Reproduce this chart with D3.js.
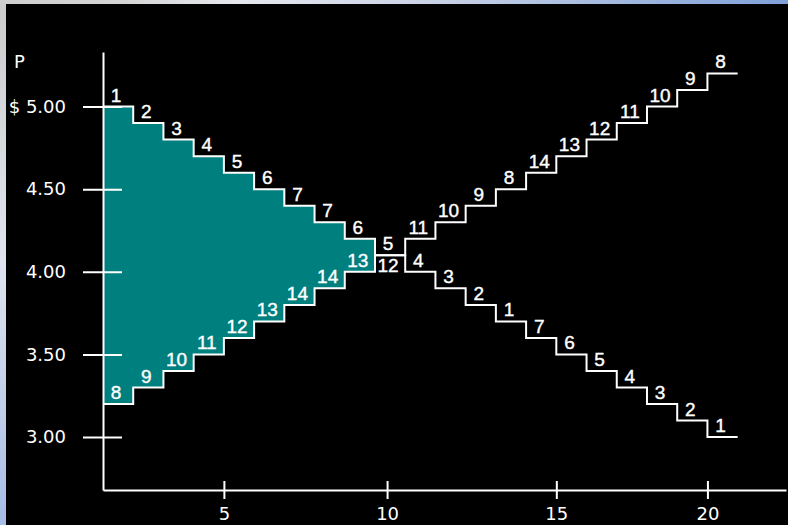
<!DOCTYPE html>
<html>
<head>
<meta charset="utf-8">
<script src="https://cdn.jsdelivr.net/npm/d3@7"></script>
<style>
    body { margin: 0; background: #000; }
    svg { display: block; }
</style>
</head>
<body>
<script>
// buyers (demand) and sellers (supply), one step per trader, price in dollars
var demandLabels = ["1", "2", "3", "4", "5", "6", "7", "7", "6", "5", "4", "3", "2", "1", "7", "6", "5", "4", "3", "2", "1"];
var demandPrices = [5.00, 4.90, 4.80, 4.70, 4.60, 4.50, 4.40, 4.30, 4.20, 4.10, 4.00, 3.90, 3.80, 3.70, 3.60, 3.50, 3.40, 3.30, 3.20, 3.10, 3.00];
var supplyLabels = ["8", "9", "10", "11", "12", "13", "14", "14", "13", "12", "11", "10", "9", "8", "14", "13", "12", "11", "10", "9", "8"];
var supplyPrices = [3.20, 3.30, 3.40, 3.50, 3.60, 3.70, 3.80, 3.90, 4.00, 4.10, 4.20, 4.30, 4.40, 4.50, 4.60, 4.70, 4.80, 4.90, 5.00, 5.10, 5.20];
var priceTicks = [5.00, 4.50, 4.00, 3.50, 3.00];
var priceTickLabels = ["$ 5.00", "4.50", "4.00", "3.50", "3.00"];
// tick positions as they sit under the steps in the picture
var quantityTicks = [4, 9.4, 15, 20];
var quantityTickLabels = ["5", "10", "15", "20"];
var surplusEnd = 9;

var svg, x, y;

initChart();
drawSurplus();
drawAxes();
drawSteps(demandPrices, demandLabels, "demand");
drawSteps(supplyPrices, supplyLabels, "supply");

function initChart() {
    svg = d3.select("body").append("svg")
            .attr("width", 788)
            .attr("height", 525);

    var defs = svg.append("defs");
    var topGrad = defs.append("linearGradient").attr("id", "topGrad")
            .attr("x1", "0").attr("x2", "1").attr("y1", "0").attr("y2", "0");
    [[0, "#cfcfcf"], [0.15, "#d4d4d4"], [0.3, "#e6e8ee"], [0.55, "#c9d2e6"], [1, "#7fa1d9"]].forEach(function (s) {
        topGrad.append("stop").attr("offset", s[0]).attr("stop-color", s[1]);
    });
    var leftGrad = defs.append("linearGradient").attr("id", "leftGrad")
            .attr("x1", "0").attr("x2", "0").attr("y1", "0").attr("y2", "1");
    [[0, "#cccccc"], [0.5, "#dfe4ee"], [1, "#a6bce6"]].forEach(function (s) {
        leftGrad.append("stop").attr("offset", s[0]).attr("stop-color", s[1]);
    });

    svg.append("rect").attr("width", 788).attr("height", 525).attr("fill", "url(#leftGrad)");
    svg.append("rect").attr("width", 788).attr("height", 4).attr("fill", "url(#topGrad)");
    svg.append("rect").attr("x", 6).attr("y", 4).attr("width", 782).attr("height", 521).attr("fill", "#000");

    x = d3.scaleLinear()
            .domain([0, 22.6])
            .range([103, 786]);
    y = d3.scaleLinear()
            .domain([2.68, 5.33])
            .range([490, 52]);
}

function drawSurplus() {
    var area = d3.area()
            .curve(d3.curveStepAfter)
            .x(function (i) { return x(i); })
            .y0(function (i) { return y(supplyPrices[i]); })
            .y1(function (i) { return y(demandPrices[i]); });
    svg.append("path")
            .datum(d3.range(0, surplusEnd + 1))
            .attr("fill", "#007f7f")
            .attr("d", area);
}

function drawAxes() {
    var xAxis = svg.append("g")
            .attr("transform", "translate(0," + y.range()[0] + ")")
            .call(d3.axisBottom(x)
                    .tickValues(quantityTicks)
                    .tickFormat(function (d, i) { return quantityTickLabels[i]; })
                    .tickSize(9)
                    .tickSizeOuter(0));
    xAxis.selectAll(".tick line").attr("y1", -9);
    xAxis.selectAll(".tick text").attr("y", 17);

    var yAxis = svg.append("g")
            .attr("transform", "translate(" + x.range()[0] + ",0)")
            .call(d3.axisLeft(y)
                    .tickValues(priceTicks)
                    .tickFormat(function (d, i) { return priceTickLabels[i]; })
                    .tickSize(20)
                    .tickSizeOuter(0));
    yAxis.selectAll(".tick line").attr("x1", 19);
    yAxis.selectAll(".tick text").attr("x", -37);

    [xAxis, yAxis].forEach(function (g) {
        g.attr("color", "#fff")
                .attr("font-family", "DejaVu Sans")
                .attr("font-size", 18);
        g.selectAll("path, line").attr("stroke-width", 2);
    });

    svg.append("text")
            .attr("x", 14)
            .attr("y", 68)
            .attr("fill", "#fff")
            .attr("font-family", "DejaVu Sans")
            .attr("font-size", 18)
            .text("P");
}

function drawSteps(prices, labels, name) {
    var points = d3.range(0, prices.length + 1);
    var line = d3.line()
            .curve(d3.curveStepAfter)
            .x(function (i) { return x(i); })
            .y(function (i) { return y(prices[Math.min(i, prices.length - 1)]); });
    svg.append("path")
            .datum(points)
            .attr("class", name)
            .attr("fill", "none")
            .attr("stroke", "#fff")
            .attr("stroke-width", 2)
            .attr("d", line);

    svg.selectAll("." + name + "Label")
            .data(prices)
            .enter().append("text")
            .attr("class", name + "Label")
            .attr("x", function (p, i) { return x(i + 0.5) - 2; })
            .attr("y", function (p, i) {
                // a seller sharing the buyer's step gets its number under the line
                var shared = name == "supply" && p == demandPrices[i];
                return shared ? y(p) + 17 : y(p) - 5;
            })
            .attr("text-anchor", "middle")
            .attr("fill", "#fff")
            .attr("font-family", "Liberation Sans, Arial, sans-serif")
            .attr("font-size", 19)
            .attr("stroke", "#fff")
            .attr("stroke-width", 0.4)
            .text(function (p, i) { return labels[i]; });
}
</script>
</body>
</html>
